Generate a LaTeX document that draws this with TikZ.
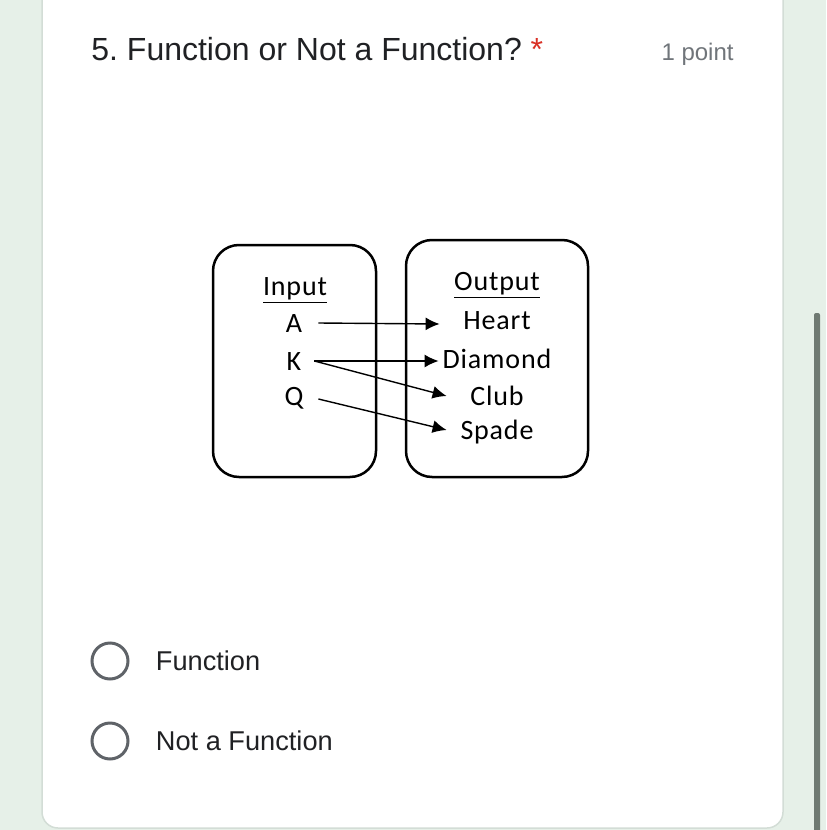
\documentclass[tikz,border=0pt]{standalone}
\usepackage{fontspec}
\setmainfont{Liberation Sans}
\newfontfamily\diagfont[LetterSpace=3]{Carlito}
\usetikzlibrary{arrows.meta,positioning}

\definecolor{pagebg}{HTML}{E6F0E8}
\definecolor{cardline}{HTML}{D3DDD6}
\definecolor{scrollc}{HTML}{6F7A72}
\definecolor{radioc}{HTML}{5F6368}
\definecolor{mutedc}{HTML}{70757A}
\definecolor{starc}{HTML}{D93025}
\definecolor{inkc}{HTML}{202124}

\begin{document}
\begin{tikzpicture}[
        x=0.5pt, y=-0.5pt,
        card/.style={draw=cardline, fill=white, line width=0.75pt, rounded corners=8pt},
        setbox/.style={rectangle, rounded corners=13pt, draw=black, line width=1.25pt, inner sep=0pt},
        item/.style={inner sep=0pt, anchor=base, align=center, text height=9pt, text depth=0pt,
                     font=\diagfont\fontsize{14}{16}\selectfont},
        initem/.style={item, text width=20pt},
        outitem/.style={item, text width=58pt},
        radio/.style={circle, draw=radioc, line width=1.5pt, minimum size=18pt, inner sep=0pt},
        option/.style={inner sep=0pt, text=inkc, font=\fontsize{13.6}{16}\selectfont},
        arrow/.style={-{Latex[length=7pt,width=6.5pt]}, line width=0.7pt}
    ]
        \useasboundingbox (0,0) rectangle (826,830);
        \fill[pagebg] (0,0) rectangle (826,830);
        \draw[card] (42,-20) rectangle (783,828);
        \fill[scrollc, rounded corners=1pt] (814,313) rectangle (820,840);

        % question header
        \node[anchor=base west, inner sep=0pt, text=inkc, font=\fontsize{16}{19}\selectfont] (title) at (91,60)
            {5.\ Function or Not a Function?\ \textcolor{starc}{*}};
        \node[anchor=base east, inner sep=0pt, text=mutedc, font=\fontsize{12}{14}\selectfont] (points) at (734,60) {1 point};

        % mapping diagram
        \node[setbox, minimum width=81.5pt, minimum height=116pt] (inbox) at (294.5,361) {};
        \node[setbox, minimum width=91pt, minimum height=118.5pt] (outbox) at (497,358.5) {};

        \node[item, text width=40pt] (inhead) at (295,295) {\underline{Input}};
        \node[initem] (inA) at (294,332) {A};
        \node[initem] (inK) at (294,370) {K};
        \node[initem] (inQ) at (294,405) {Q};

        \node[outitem] (outhead) at (497,290) {\underline{Output}};
        \node[outitem] (heart) at (497,329) {Heart};
        \node[outitem] (diamond) at (497,368) {Diamond};
        \node[outitem] (club) at (497,405) {Club};
        \node[outitem] (spade) at (497,439) {Spade};

        \draw[arrow] ([xshift=2pt]inA.east) -- ([xshift=0.5pt,yshift=-2pt]heart.west);
        \draw[arrow] (inK.east) -- ([yshift=-1pt]diamond.west);
        \draw[arrow] (inK.east) -- ([xshift=4pt]club.west);
        \draw[arrow] ([xshift=2pt,yshift=-1.5pt]inQ.east) -- ([xshift=4pt]spade.west);

        % answer choices
        \node[radio] (opt1) at (110,661) {};
        \node[radio] (opt2) at (110,741) {};
        \node[option, right=13pt of opt1] (opt1text) {Function};
        \node[option, right=13pt of opt2] (opt2text) {Not a Function};
    \end{tikzpicture}
\end{document}
